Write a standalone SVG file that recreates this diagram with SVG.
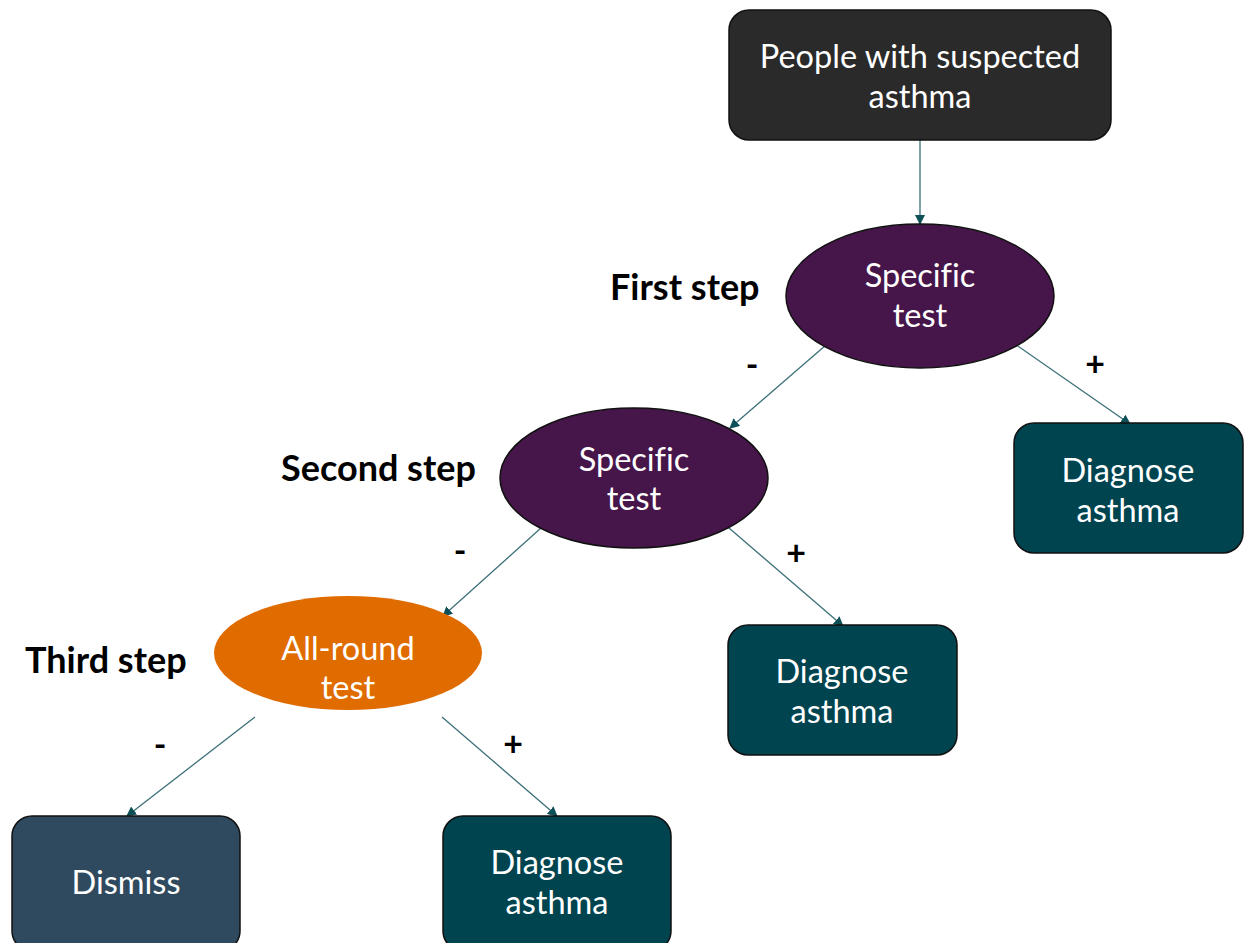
<svg xmlns="http://www.w3.org/2000/svg" width="1250" height="943" viewBox="0 0 1250 943">
<defs>
<marker id="arr" viewBox="0 0 10 10" refX="9" refY="5" markerWidth="10" markerHeight="10" markerUnits="userSpaceOnUse" orient="auto">
<path d="M0,0 L10,5 L0,10 z" fill="#0f4f58"/>
</marker>
<style>
.nt{font-family:Lato,"Open Sans","Liberation Sans",sans-serif;font-size:32.5px;fill:#ffffff;text-anchor:middle;font-variant-ligatures:none}
.lb{font-family:Lato,"Open Sans","Liberation Sans",sans-serif;font-size:36px;font-weight:bold;fill:#000000}
.sg{font-family:Lato,"Open Sans","Liberation Sans",sans-serif;font-size:34px;font-weight:bold;fill:#000000;text-anchor:middle}
.edge{stroke:#3d7079;stroke-width:1.3;fill:none;marker-end:url(#arr)}
.box{stroke:#111;stroke-width:1.5}
</style>
</defs>
<rect width="1250" height="943" fill="#ffffff"/>
<g id="connectors">
<line class="edge" x1="920" y1="140" x2="920" y2="224"/>
<line class="edge" x1="826" y1="345" x2="730" y2="428"/>
<line class="edge" x1="1015" y1="344" x2="1130" y2="424"/>
<line class="edge" x1="541" y1="528" x2="443" y2="616"/>
<line class="edge" x1="729" y1="528" x2="843" y2="626"/>
<line class="edge" x1="255" y1="717" x2="127" y2="816"/>
<line class="edge" x1="442" y1="717" x2="557" y2="816"/>
</g>
<g id="labels">
<text class="lb" x="610" y="300">First step</text>
<text class="lb" x="281" y="481">Second step</text>
<text class="lb" x="25" y="673">Third step</text>
<text class="sg" x="752" y="377">-</text>
<text class="sg" x="1095" y="376">+</text>
<text class="sg" x="460" y="563">-</text>
<text class="sg" x="796" y="565">+</text>
<text class="sg" x="160" y="757">-</text>
<text class="sg" x="513" y="756">+</text>
</g>
<g id="start">
<rect class="box" x="729" y="10" width="382" height="130" rx="20" fill="#2a2a2a"/>
<text class="nt" x="920" y="68">People with suspected</text>
<text class="nt" x="920" y="108">asthma</text>
</g>
<g id="test1">
<ellipse class="box" cx="920" cy="296" rx="134" ry="72" fill="#46164a"/>
<text class="nt" x="920" y="287">Specific</text>
<text class="nt" x="920" y="327">test</text>
</g>
<g id="test2">
<ellipse class="box" cx="634" cy="478" rx="134" ry="70" fill="#46164a"/>
<text class="nt" x="634" y="471">Specific</text>
<text class="nt" x="634" y="510">test</text>
</g>
<g id="test3">
<ellipse cx="348" cy="653" rx="134" ry="57" fill="#e06c00"/>
<text class="nt" x="348" y="660">All-round</text>
<text class="nt" x="348" y="699">test</text>
</g>
<g id="diag1">
<rect class="box" x="1014" y="423" width="229" height="130" rx="20" fill="#004450"/>
<text class="nt" x="1128" y="482">Diagnose</text>
<text class="nt" x="1128" y="522">asthma</text>
</g>
<g id="diag2">
<rect class="box" x="728" y="625" width="229" height="130" rx="20" fill="#004450"/>
<text class="nt" x="842" y="683">Diagnose</text>
<text class="nt" x="842" y="723">asthma</text>
</g>
<g id="dismiss">
<rect class="box" x="12" y="816" width="228" height="135" rx="20" fill="#2f4a5e"/>
<text class="nt" x="126" y="894">Dismiss</text>
</g>
<g id="diag3">
<rect class="box" x="443" y="816" width="228" height="135" rx="20" fill="#004450"/>
<text class="nt" x="557" y="874">Diagnose</text>
<text class="nt" x="557" y="914">asthma</text>
</g>
</svg>
